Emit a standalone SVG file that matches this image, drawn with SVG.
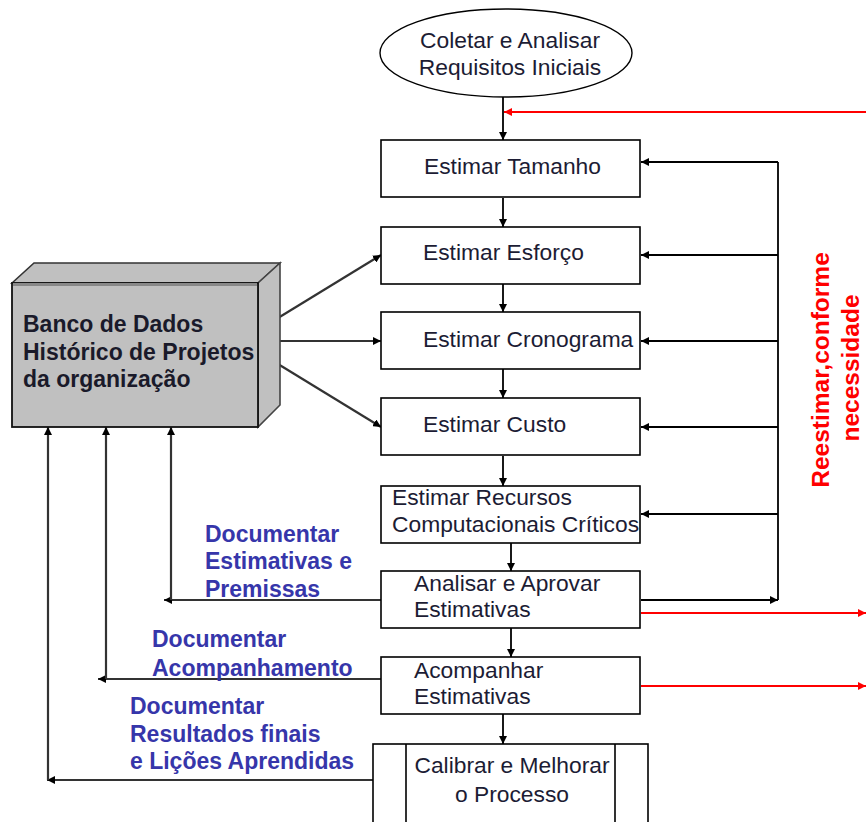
<svg xmlns="http://www.w3.org/2000/svg" width="866" height="822" viewBox="0 0 866 822">
<defs>
<marker id="ah" viewBox="0 0 10 10" refX="10" refY="5" markerWidth="8" markerHeight="8" markerUnits="userSpaceOnUse" orient="auto"><path d="M0,0 L10,5 L0,10 z" fill="#000"/></marker>
<marker id="ahr" viewBox="0 0 10 10" refX="10" refY="5" markerWidth="8" markerHeight="8" markerUnits="userSpaceOnUse" orient="auto"><path d="M0,0 L10,5 L0,10 z" fill="#ff0000"/></marker>
<style>
.box{fill:#fff;stroke:#000;stroke-width:1.6}
.t{font-family:"Liberation Sans",Arial,sans-serif;font-size:22.8px;fill:#1c1c34}
.db{font-family:"Liberation Sans",Arial,sans-serif;font-size:23px;font-weight:bold;fill:#1a1a2a}
.lbl{font-family:"Liberation Sans",Arial,sans-serif;font-size:23px;font-weight:bold;fill:#3636aa}
.red{font-family:"Liberation Sans",Arial,sans-serif;font-size:24.5px;font-weight:bold;fill:#ff0000}
.c{fill:none;stroke:#000;stroke-width:1.8}
.cg{fill:none;stroke:#333;stroke-width:2.2}
.cr{fill:none;stroke:#ff0000;stroke-width:2}
</style>
</defs>
<rect width="866" height="822" fill="#fff"/>

<g id="connectors">
<path class="c" d="M503,97 V140" marker-end="url(#ah)"/>
<path class="c" d="M503,198 V227" marker-end="url(#ah)"/>
<path class="c" d="M503,284 V312" marker-end="url(#ah)"/>
<path class="c" d="M503,369 V398" marker-end="url(#ah)"/>
<path class="c" d="M503,456 V486" marker-end="url(#ah)"/>
<path class="c" d="M511,543 V571" marker-end="url(#ah)"/>
<path class="c" d="M511,628 V657" marker-end="url(#ah)"/>
<path class="c" d="M503,714 V744" marker-end="url(#ah)"/>
<path class="c" d="M641,600 H778" marker-end="url(#ah)"/>
<path class="c" d="M778,600 V162"/>
<path class="c" d="M778,162 H641" marker-end="url(#ah)"/>
<path class="c" d="M778,255 H641" marker-end="url(#ah)"/>
<path class="c" d="M778,341 H641" marker-end="url(#ah)"/>
<path class="c" d="M778,427 H641" marker-end="url(#ah)"/>
<path class="c" d="M778,514 H641" marker-end="url(#ah)"/>
<path class="cr" d="M866,112 H504" marker-end="url(#ahr)"/>
<path class="cr" d="M641,613 H866" marker-end="url(#ahr)"/>
<path class="cr" d="M641,686 H866" marker-end="url(#ahr)"/>
<path class="cg" d="M278,318 L381,255" marker-end="url(#ah)"/>
<path class="cg" d="M278,341 H381" marker-end="url(#ah)"/>
<path class="cg" d="M278,364 L381,427" marker-end="url(#ah)"/>
<path class="cg" d="M381,600 H164" marker-end="url(#ah)"/>
<path class="cg" d="M171,600 V427" marker-end="url(#ah)"/>
<path class="cg" d="M381,679 H98" marker-end="url(#ah)"/>
<path class="cg" d="M106,679 V427" marker-end="url(#ah)"/>
<path class="cg" d="M373,780 H47" marker-end="url(#ah)"/>
<path class="cg" d="M48,780 V427" marker-end="url(#ah)"/>
</g>

<g id="n-coletar">
<ellipse cx="506" cy="53" rx="126" ry="44" fill="#fff" stroke="#000" stroke-width="1.4"/>
<text class="t" x="510" y="48" text-anchor="middle">Coletar e Analisar</text>
<text class="t" x="510" y="75" text-anchor="middle">Requisitos Iniciais</text>
</g>

<g id="n-tamanho">
<rect class="box" x="381" y="140" width="259" height="57"/>
<text class="t" x="424" y="174">Estimar Tamanho</text>
</g>
<g id="n-esforco">
<rect class="box" x="381" y="227" width="259" height="57"/>
<text class="t" x="423" y="260">Estimar Esforço</text>
</g>
<g id="n-cronograma">
<rect class="box" x="381" y="312" width="259" height="57"/>
<text class="t" x="423" y="347">Estimar Cronograma</text>
</g>
<g id="n-custo">
<rect class="box" x="381" y="398" width="259" height="57"/>
<text class="t" x="423" y="432">Estimar Custo</text>
</g>
<g id="n-recursos">
<rect class="box" x="381" y="486" width="259" height="57"/>
<text class="t" x="392" y="505">Estimar Recursos</text>
<text class="t" x="392" y="532">Computacionais Críticos</text>
</g>
<g id="n-analisar">
<rect class="box" x="381" y="571" width="259" height="57"/>
<text class="t" x="414" y="591">Analisar e Aprovar</text>
<text class="t" x="414" y="617">Estimativas</text>
</g>
<g id="n-acompanhar">
<rect class="box" x="381" y="657" width="259" height="57"/>
<text class="t" x="414" y="678">Acompanhar</text>
<text class="t" x="414" y="704">Estimativas</text>
</g>
<g id="n-calibrar">
<rect class="box" x="373" y="744" width="275" height="90"/>
<path d="M406,744 V822 M615,744 V822" stroke="#000" stroke-width="1.6"/>
<text class="t" x="512" y="773" text-anchor="middle">Calibrar e Melhorar</text>
<text class="t" x="512" y="802" text-anchor="middle">o Processo</text>
</g>

<g id="n-banco">
<polygon points="12,283 34,263 280,263 258,283" fill="#c0c0c0" stroke="#333" stroke-width="1.6"/>
<polygon points="258,283 280,263 280,405 258,427" fill="#c0c0c0" stroke="#444" stroke-width="1.6"/>
<rect x="12" y="283" width="246" height="144" fill="#c0c0c0" stroke="#111" stroke-width="1.8"/>
<line x1="13" y1="284.5" x2="257" y2="284.5" stroke="#888" stroke-width="3"/>
<text class="db" x="23" y="332">Banco de Dados</text>
<text class="db" x="23" y="360">Histórico de Projetos</text>
<text class="db" x="23" y="387">da organização</text>
</g>

<g id="labels">
<text class="lbl" x="205" y="542">Documentar</text>
<text class="lbl" x="205" y="569">Estimativas e</text>
<text class="lbl" x="205" y="597">Premissas</text>
<text class="lbl" x="152" y="647">Documentar</text>
<text class="lbl" x="152" y="676">Acompanhamento</text>
<text class="lbl" x="130" y="714">Documentar</text>
<text class="lbl" x="130" y="742">Resultados finais</text>
<text class="lbl" x="130" y="769">e Lições Aprendidas</text>
<text class="red" transform="translate(829,370) rotate(-90)" text-anchor="middle">Reestimar,conforme</text>
<text class="red" transform="translate(859,368) rotate(-90)" text-anchor="middle">necessidade</text>
</g>
</svg>
